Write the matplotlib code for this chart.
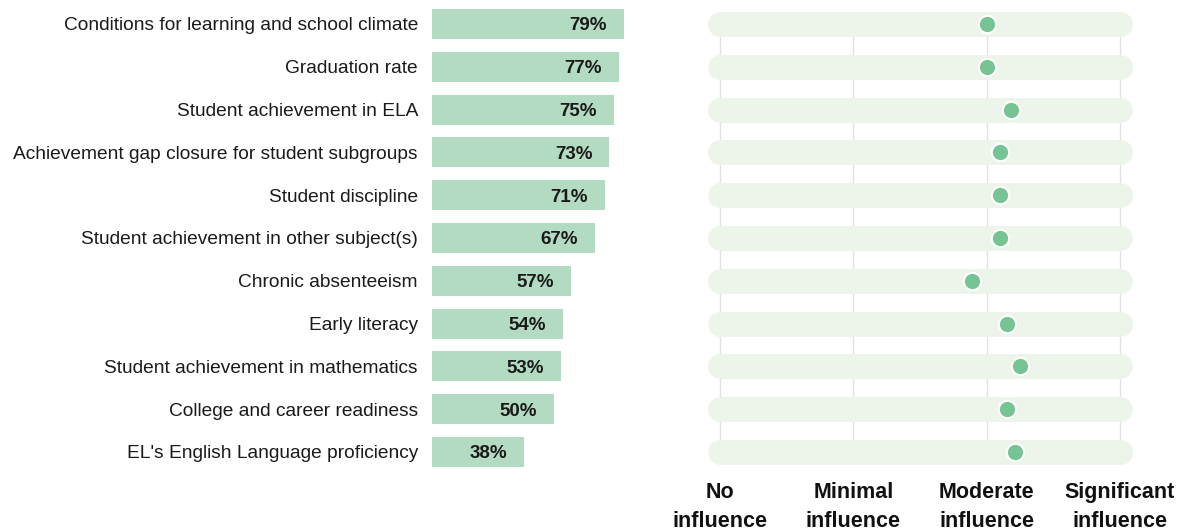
import matplotlib.pyplot as plt

categories = [
    "Conditions for learning and school climate",
    "Graduation rate",
    "Student achievement in ELA",
    "Achievement gap closure for student subgroups",
    "Student discipline",
    "Student achievement in other subject(s)",
    "Chronic absenteeism",
    "Early literacy",
    "Student achievement in mathematics",
    "College and career readiness",
    "EL's English Language proficiency",
]
percent = [79, 77, 75, 73, 71, 67, 57, 54, 53, 50, 38]
influence = [3.0, 3.0, 3.18, 3.1, 3.1, 3.1, 2.89, 3.15, 3.25, 3.15, 3.21]
scale_labels = ["No\ninfluence", "Minimal\ninfluence", "Moderate\ninfluence", "Significant\ninfluence"]

font = ["Liberation Sans", "DejaVu Sans"]

W, H = 1182, 531
fig = plt.figure(figsize=(W / 100, H / 100), dpi=100)

top_px, bot_px = 2.6, 473.4
bottom = (H - bot_px) / H
height = (bot_px - top_px) / H
n = len(categories)
ys = list(range(n))

# left: bars
ax1 = fig.add_axes([432 / W, bottom, 243 / W, height])
ax1.barh(ys, percent, height=0.7, color="#b3dbc2")
ax1.set_xlim(0, 100)
ax1.set_ylim(n - 0.5, -0.5)
for y, p in zip(ys, percent):
    ax1.text(p - 7, y, f"{p}%", ha="right", va="center_baseline", fontsize=13.5,
             fontweight="bold", family=font, color="#1a1a1a")
for y, c in zip(ys, categories):
    ax1.text(-5.8, y, c, ha="right", va="center_baseline", fontsize=13.75, family=font,
             color="#1a1a1a")
ax1.axis("off")

# right: influence dots
ax2 = fig.add_axes([700 / W, bottom, 440 / W, height])
ax2.set_xlim(0.85, 4.15)
ax2.set_ylim(n - 0.5, -0.5)
for x in range(1, 5):
    ax2.plot([x, x], [0, n - 1], color="#e2e2e2", lw=1, zorder=1)
for y in ys:
    ax2.plot([1, 4], [y, y], color="#edf5ea", lw=18, solid_capstyle="round", zorder=2)
ax2.plot(influence, ys, "o", ms=12.5, color="#76c493", mec="white", mew=1.5, zorder=3)
ax2.axis("off")

for i, lab in enumerate(scale_labels):
    ax2.text(i + 1, n - 0.5 + 0.2, lab, ha="center", va="top", fontsize=15.5,
             fontweight="bold", family=font, color="#111111", linespacing=1.5)

fig.savefig("out.png", dpi=100)
